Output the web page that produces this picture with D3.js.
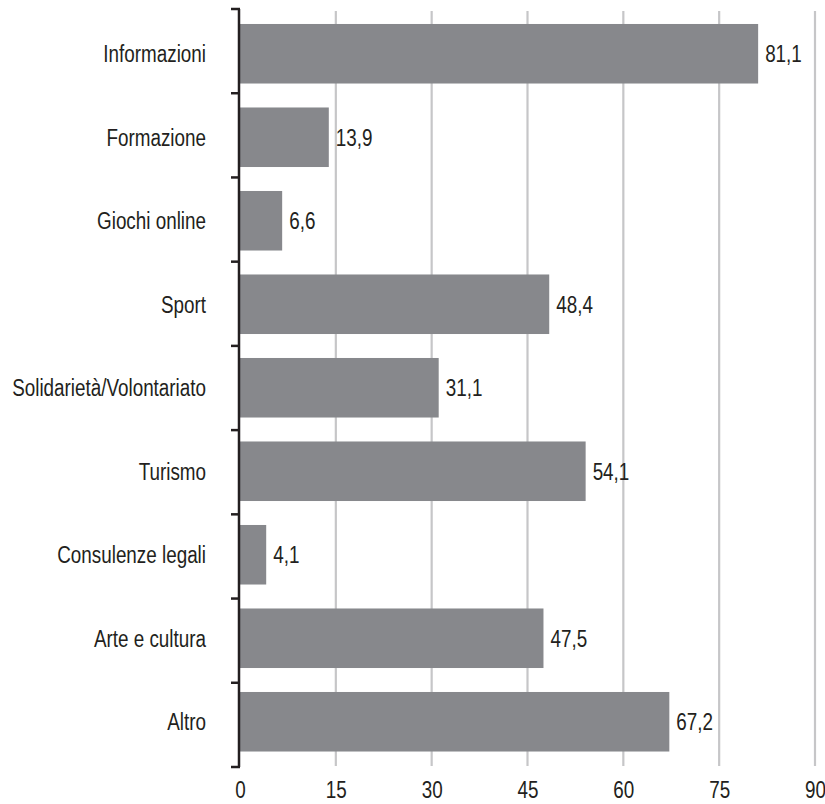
<!DOCTYPE html>
<html>
<head>
<meta charset="utf-8">
<script src="https://cdn.jsdelivr.net/npm/d3@7"></script>
<style>
  html, body { margin: 0; padding: 0; background: #fff; }
  svg { display: block; }
  text { font-family: "Liberation Sans", Arial, sans-serif; fill: #231f20; }
</style>
</head>
<body>
<div id="chart"></div>
<script>
// Categories (top to bottom) and their percentage values
const categories = [
  "Informazioni", "Formazione", "Giochi online", "Sport",
  "Solidarietà/Volontariato", "Turismo", "Consulenze legali",
  "Arte e cultura", "Altro"
];
const values = [81.1, 13.9, 6.6, 48.4, 31.1, 54.1, 4.1, 47.5, 67.2];
const labels = ["81,1", "13,9", "6,6", "48,4", "31,1", "54,1", "4,1", "47,5", "67,2"];
const xTicks = [0, 15, 30, 45, 60, 75, 90];

const W = 825, H = 804;
const NARROW = 0.82;      // horizontal squeeze for a condensed look
const FONT = 23;
const data = categories.map((c, i) => ({ cat: c, value: values[i], label: labels[i] }));

const svg = d3.select("#chart").append("svg").attr("width", W).attr("height", H);

const x = d3.scaleLinear().domain([0, 90]).range([240, 815]);

// bars sit in a band scale; axis ticks mark row boundaries
const y = d3.scaleBand().domain(categories).range([12, 763.5])
  .paddingInner(0.287).paddingOuter(0.1435);
const rowEdges = d3.scaleLinear().domain([0, categories.length]).range([9, 767]);
const mid = d => y(d.cat) + y.bandwidth() / 2;

// vertical gridlines
svg.append("g").selectAll("line")
  .data(xTicks.filter(t => t > 0))
  .join("line")
  .attr("x1", d => x(d)).attr("x2", d => x(d))
  .attr("y1", 11).attr("y2", 766)
  .attr("stroke", "#c6c6c8").attr("stroke-width", 2.2);

// bars
svg.append("g").selectAll("rect")
  .data(data)
  .join("rect")
  .attr("x", x(0))
  .attr("y", d => y(d.cat))
  .attr("width", d => x(d.value) - x(0))
  .attr("height", y.bandwidth())
  .attr("fill", "#87888c");

// value labels
svg.append("g").selectAll("text")
  .data(data)
  .join("text")
  .attr("transform", d => `translate(${x(d.value) + 7},${mid(d)}) scale(${NARROW},1)`)
  .attr("dy", "0.36em")
  .attr("font-size", FONT)
  .text(d => d.label);

// category labels
svg.append("g").selectAll("text")
  .data(data)
  .join("text")
  .attr("transform", d => `translate(206,${mid(d)}) scale(${NARROW},1)`)
  .attr("dy", "0.36em")
  .attr("text-anchor", "end")
  .attr("font-size", FONT)
  .text(d => d.cat);

// y axis line with row-boundary ticks
const yAxis = svg.append("g");
yAxis.append("line")
  .attr("x1", 239).attr("x2", 239)
  .attr("y1", rowEdges(0)).attr("y2", rowEdges(categories.length))
  .attr("stroke", "#231f20").attr("stroke-width", 2.5);
yAxis.selectAll("line.tick")
  .data(d3.range(categories.length + 1))
  .join("line")
  .attr("class", "tick")
  .attr("x1", 231).attr("x2", 240)
  .attr("y1", d => rowEdges(d)).attr("y2", d => rowEdges(d))
  .attr("stroke", "#231f20").attr("stroke-width", 2.5);

// x axis tick labels
const xAxis = d3.axisBottom(x).tickValues(xTicks).tickSize(0).tickPadding(0);
const gx = svg.append("g").attr("transform", "translate(0,782)").call(xAxis);
gx.select(".domain").remove();
gx.selectAll("text")
  .attr("font-size", FONT)
  .attr("dy", "0.71em")
  .attr("transform", `scale(${NARROW},1)`)
  .attr("fill", "#231f20")
  .style("font-family", "\"Liberation Sans\", Arial, sans-serif");
</script>
</body>
</html>
